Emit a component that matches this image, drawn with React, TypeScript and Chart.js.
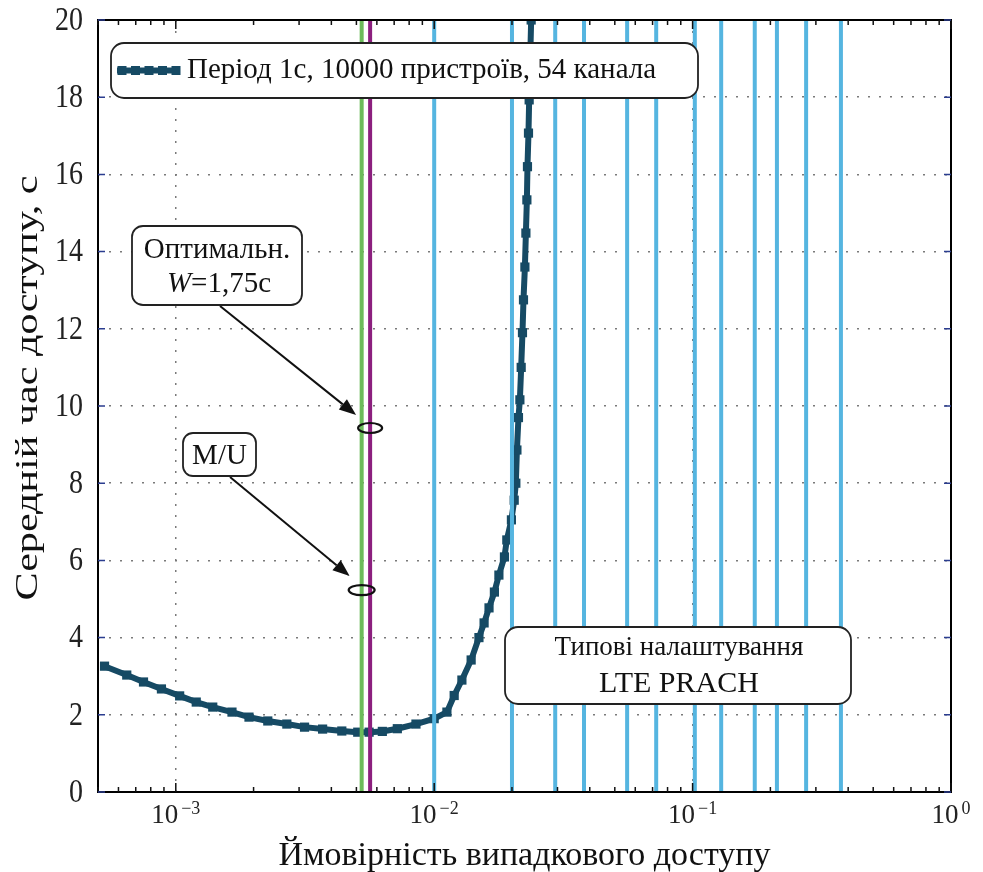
import React, { useEffect, useRef } from 'react';
import { Chart, registerables } from 'chart.js';

Chart.register(...registerables);

// ---- data ----
const curveX = [0.00053, 0.000646, 0.00075, 0.00088, 0.001035, 0.0012, 0.00139, 0.00165, 0.00192, 0.00227, 0.00269, 0.00315, 0.0037, 0.00439, 0.00506, 0.0056, 0.0063, 0.0072, 0.0085, 0.01, 0.0112, 0.01195, 0.0128, 0.0139, 0.0149, 0.0156, 0.0163, 0.0171, 0.0178, 0.0187, 0.0191, 0.0199, 0.0204, 0.0207, 0.0209, 0.02119, 0.02146, 0.02171, 0.02196, 0.02216, 0.02244, 0.02264, 0.02284, 0.02296, 0.02317, 0.02331, 0.02373];
const curveY = [3.26, 3.03, 2.85, 2.67, 2.49, 2.33, 2.2, 2.07, 1.94, 1.84, 1.76, 1.68, 1.63, 1.58, 1.55, 1.55, 1.57, 1.64, 1.76, 1.9, 2.07, 2.5, 2.9, 3.42, 4.0, 4.38, 4.77, 5.18, 5.62, 6.09, 6.53, 7.05, 7.56, 8.0, 8.86, 9.7, 10.16, 11.0, 11.9, 12.75, 13.6, 14.48, 15.34, 16.2, 17.07, 17.93, 20];
const prachSettings = [0.01, 0.02, 0.0294, 0.038, 0.0558, 0.0723, 0.102, 0.129, 0.174, 0.212, 0.275, 0.375];
const muProbability = 0.00524;
const optimalProbability = 0.00565;
const muMarkerDelay = 5.23;
const optimalMarkerDelay = 9.43;
const xMin = 0.0005;
const xMax = 1;
const yMin = 0;
const yMax = 20;
const yStep = 2;
const xDecades = [0.001, 0.01, 0.1, 1];

const legendLabel = 'Період 1с, 10000 пристроїв, 54 канала';
const xTitle = 'Ймовірність випадкового доступу';
const yTitle = 'Середній час доступу, с';
const optimalLabel1 = 'Оптимальн.';
const optimalLabelW = 'W';
const optimalLabelRest = '=1,75с';
const muLabel = 'M/U';
const prachLabel1 = 'Типові налаштування';
const prachLabel2 = 'LTE PRACH';

const CURVE_COLOR = '#164a64';
const PRACH_COLOR = '#55b5e0';
const MU_COLOR = '#6cbb5a';
const OPT_COLOR = '#8c1f7e';
const SERIF = '"Liberation Serif", "Times New Roman", serif';

function roundRect(ctx: CanvasRenderingContext2D, x: number, y: number, w: number, h: number, r: number) {
  ctx.beginPath();
  ctx.moveTo(x + r, y);
  ctx.lineTo(x + w - r, y);
  ctx.arcTo(x + w, y, x + w, y + r, r);
  ctx.lineTo(x + w, y + h - r);
  ctx.arcTo(x + w, y + h, x + w - r, y + h, r);
  ctx.lineTo(x + r, y + h);
  ctx.arcTo(x, y + h, x, y + h - r, r);
  ctx.lineTo(x, y + r);
  ctx.arcTo(x, y, x + r, y, r);
  ctx.closePath();
}

function drawBox(ctx: CanvasRenderingContext2D, x: number, y: number, w: number, h: number, r: number) {
  ctx.save();
  roundRect(ctx, x, y, w, h, r);
  ctx.fillStyle = '#ffffff';
  ctx.fill();
  ctx.lineWidth = 1.8;
  ctx.strokeStyle = '#222222';
  ctx.stroke();
  ctx.restore();
}

function drawArrow(ctx: CanvasRenderingContext2D, x1: number, y1: number, x2: number, y2: number) {
  const ang = Math.atan2(y2 - y1, x2 - x1);
  const len = 17;
  const hw = 6.5;
  const bx = x2 - len * Math.cos(ang);
  const by = y2 - len * Math.sin(ang);
  ctx.save();
  ctx.strokeStyle = '#111';
  ctx.fillStyle = '#111';
  ctx.lineWidth = 2;
  ctx.beginPath();
  ctx.moveTo(x1, y1);
  ctx.lineTo(bx, by);
  ctx.stroke();
  ctx.beginPath();
  ctx.moveTo(x2, y2);
  ctx.lineTo(bx + hw * Math.sin(ang), by - hw * Math.cos(ang));
  ctx.lineTo(bx - hw * Math.sin(ang), by + hw * Math.cos(ang));
  ctx.closePath();
  ctx.fill();
  ctx.restore();
}

const decorPlugin = {
  id: 'decor',
  afterDraw(chart: any) {
    const ctx: CanvasRenderingContext2D = chart.ctx;
    const area = chart.chartArea;
    const xs = chart.scales.x;
    const ys = chart.scales.y;

    // frame
    ctx.save();
    ctx.strokeStyle = '#000';
    ctx.lineWidth = 2;
    ctx.strokeRect(area.left, area.top, area.right - area.left, area.bottom - area.top);

    // x tick marks (major decades + minor)
    ctx.lineWidth = 1.5;
    ctx.strokeStyle = '#111';
    const eMin = Math.floor(Math.log10(xMin));
    const eMax = Math.ceil(Math.log10(xMax));
    for (let e = eMin; e <= eMax; e++) {
      for (let k = 1; k <= 9; k++) {
        const v = k * Math.pow(10, e);
        if (v < xMin * 0.999 || v > xMax * 1.001) continue;
        const px = xs.getPixelForValue(v);
        const L = k === 1 ? 9 : 5;
        ctx.beginPath();
        ctx.moveTo(px, area.bottom);
        ctx.lineTo(px, area.bottom - L);
        ctx.moveTo(px, area.top);
        ctx.lineTo(px, area.top + L);
        ctx.stroke();
      }
    }
    // y tick marks
    ctx.strokeStyle = '#2b3d8f';
    ys.ticks.forEach((t: any) => {
      const py = ys.getPixelForValue(t.value);
      ctx.beginPath();
      ctx.moveTo(area.left, py);
      ctx.lineTo(area.left + 7, py);
      ctx.moveTo(area.right, py);
      ctx.lineTo(area.right - 7, py);
      ctx.stroke();
    });
    ctx.restore();

    // y tick labels
    ctx.save();
    ctx.fillStyle = '#222';
    ctx.font = `28px ${SERIF}`;
    ctx.textAlign = 'right';
    ctx.textBaseline = 'middle';
    ys.ticks.forEach((t: any) => {
      const py = ys.getPixelForValue(t.value);
      ctx.save();
      ctx.translate(area.left - 15, py + 1);
      ctx.scale(1, 1.2);
      ctx.fillText(String(t.value), 0, 0);
      ctx.restore();
    });
    ctx.restore();

    // x tick labels 10^e
    ctx.save();
    ctx.fillStyle = '#222';
    ctx.textBaseline = 'alphabetic';
    ctx.textAlign = 'left';
    xs.ticks.forEach((t: any) => {
      const e = Math.round(Math.log10(t.value));
      const px = xs.getPixelForValue(t.value);
      const base = '10';
      const exp = e < 0 ? '\u2212' + String(-e) : String(e);
      ctx.font = `27px ${SERIF}`;
      const wb = ctx.measureText(base).width;
      ctx.font = `18px ${SERIF}`;
      const we = ctx.measureText(exp).width;
      const gap = 3;
      const start = px - (wb + gap + we) / 2;
      ctx.font = `27px ${SERIF}`;
      ctx.fillText(base, start, area.bottom + 31);
      ctx.font = `18px ${SERIF}`;
      ctx.fillText(exp, start + wb + gap, area.bottom + 22);
    });
    ctx.restore();

    // axis titles
    ctx.save();
    ctx.fillStyle = '#111';
    ctx.font = `34px ${SERIF}`;
    ctx.textAlign = 'center';
    ctx.textBaseline = 'alphabetic';
    ctx.fillText(xTitle, (area.left + area.right) / 2, 865);
    ctx.translate(37, 388);
    ctx.rotate(-Math.PI / 2);
    ctx.font = `31px ${SERIF}`;
    const wy = ctx.measureText(yTitle).width;
    ctx.scale(425 / wy, 1);
    ctx.fillText(yTitle, 0, 0);
    ctx.restore();

    // ellipse markers (data coordinates)
    const e1x = xs.getPixelForValue(optimalProbability);
    const e1y = ys.getPixelForValue(optimalMarkerDelay);
    const e2x = xs.getPixelForValue(muProbability);
    const e2y = ys.getPixelForValue(muMarkerDelay);
    ctx.save();
    ctx.strokeStyle = '#111';
    ctx.lineWidth = 2.2;
    ctx.beginPath();
    ctx.ellipse(e1x, e1y, 12, 5, 0, 0, Math.PI * 2);
    ctx.stroke();
    ctx.beginPath();
    ctx.ellipse(e2x, e2y, 13, 5, 0, 0, Math.PI * 2);
    ctx.stroke();
    ctx.restore();

    // arrows
    drawArrow(ctx, 220, 306, e1x - 14, e1y - 13);
    drawArrow(ctx, 230, 477, e2x - 12, e2y - 14);

    // "Оптимальн." box
    drawBox(ctx, 132, 226, 170, 79, 11);
    ctx.save();
    ctx.fillStyle = '#111';
    ctx.textBaseline = 'alphabetic';
    ctx.textAlign = 'center';
    ctx.font = `29px ${SERIF}`;
    ctx.fillText(optimalLabel1, 217, 258);
    ctx.font = `italic 29px ${SERIF}`;
    const wW = ctx.measureText(optimalLabelW).width;
    ctx.font = `29px ${SERIF}`;
    const wR = ctx.measureText(optimalLabelRest).width;
    const s2 = 219 - (wW + wR) / 2;
    ctx.textAlign = 'left';
    ctx.font = `italic 29px ${SERIF}`;
    ctx.fillText(optimalLabelW, s2, 292);
    ctx.font = `29px ${SERIF}`;
    ctx.fillText(optimalLabelRest, s2 + wW, 292);
    ctx.restore();

    // "M/U" box
    drawBox(ctx, 183, 433, 73, 43, 10);
    ctx.save();
    ctx.fillStyle = '#111';
    ctx.textAlign = 'center';
    ctx.textBaseline = 'alphabetic';
    ctx.font = `29px ${SERIF}`;
    ctx.fillText(muLabel, 219.5, 464);
    ctx.restore();

    // PRACH box
    drawBox(ctx, 505, 627, 346, 77, 13);
    ctx.save();
    ctx.fillStyle = '#111';
    ctx.textAlign = 'center';
    ctx.textBaseline = 'alphabetic';
    ctx.font = `27px ${SERIF}`;
    ctx.fillText(prachLabel1, 679, 655);
    ctx.font = `30px ${SERIF}`;
    ctx.fillText(prachLabel2, 679, 692);
    ctx.restore();

    // legend
    const ds = chart.data.datasets.find((d: any) => d.label === legendLabel);
    drawBox(ctx, 111, 43, 587, 55, 13);
    ctx.save();
    ctx.strokeStyle = ds.borderColor;
    ctx.fillStyle = ds.borderColor;
    ctx.lineWidth = ds.borderWidth;
    ctx.beginPath();
    ctx.moveTo(117, 70.5);
    ctx.lineTo(180, 70.5);
    ctx.stroke();
    for (let i = 0; i < 5; i++) {
      const mx = 122 + i * 13.5;
      ctx.fillRect(mx - 4.5, 70.5 - 4.5, 9, 9);
    }
    ctx.fillStyle = '#111';
    ctx.font = `29px ${SERIF}`;
    ctx.textAlign = 'left';
    ctx.textBaseline = 'alphabetic';
    ctx.fillText(legendLabel, 187, 78);
    ctx.restore();
  },
};

export default function App() {
  const canvasRef = useRef<HTMLCanvasElement | null>(null);

  useEffect(() => {
    if (!canvasRef.current) return;
    const vlines = [
      ...prachSettings.map((p) => ({ p, color: PRACH_COLOR })),
      { p: muProbability, color: MU_COLOR },
      { p: optimalProbability, color: OPT_COLOR },
    ].map(({ p, color }) => ({
      label: 'v' + p,
      data: [
        { x: p, y: yMin },
        { x: p, y: yMax },
      ],
      borderColor: color,
      backgroundColor: color,
      borderWidth: 4,
      pointRadius: 0,
      order: 1,
      clip: 0,
    }));

    const chart = new Chart(canvasRef.current, {
      type: 'line',
      data: {
        datasets: [
          ...vlines,
          {
            label: legendLabel,
            data: curveX.map((x, i) => ({ x, y: curveY[i] })),
            borderColor: CURVE_COLOR,
            backgroundColor: CURVE_COLOR,
            borderWidth: 6,
            pointStyle: 'rect',
            pointRadius: 6.5,
            pointBorderWidth: 0,
            tension: 0,
            order: 5,
            clip: 0,
          },
        ] as any,
      },
      options: {
        responsive: false,
        animation: false,
        devicePixelRatio: 1,
        layout: { padding: { left: 98, top: 20, right: 32, bottom: 80 } },
        plugins: { legend: { display: false }, tooltip: { enabled: false } },
        scales: {
          x: {
            type: 'logarithmic',
            min: xMin,
            max: xMax,
            afterBuildTicks: (s: any) => {
              s.ticks = xDecades.map((v) => ({ value: v }));
            },
            afterFit: (s: any) => {
              s.height = 0;
            },
            ticks: { display: false },
            grid: { color: '#7a7a7a', lineWidth: 1.5, drawTicks: false },
            border: { display: false, dash: [2, 9] },
          },
          y: {
            type: 'linear',
            min: yMin,
            max: yMax,
            ticks: { display: false, stepSize: yStep },
            afterFit: (s: any) => {
              s.width = 0;
            },
            grid: { color: '#7a7a7a', lineWidth: 1.5, drawTicks: false },
            border: { display: false, dash: [2, 9] },
          },
        },
      } as any,
      plugins: [decorPlugin],
    });
    return () => chart.destroy();
  }, []);

  return (
    <div style={{ position: 'absolute', left: 0, top: 0, width: 983, height: 872, background: '#fff' }}>
      <canvas ref={canvasRef} width={983} height={872} style={{ display: 'block' }} />
    </div>
  );
}
